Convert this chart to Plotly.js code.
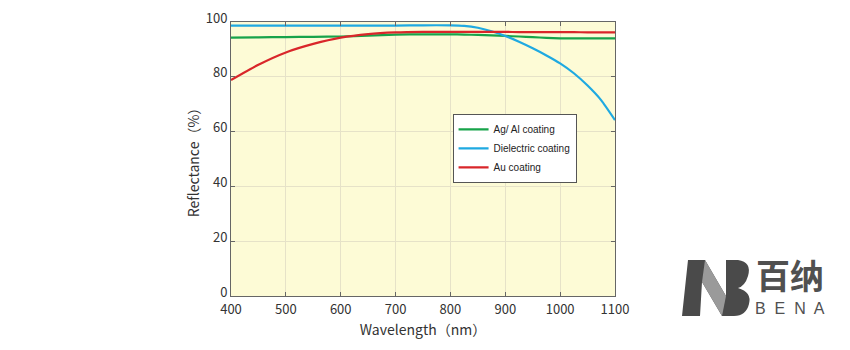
<!DOCTYPE html>
<html><head><meta charset="utf-8">
<script src="https://cdn.plot.ly/plotly-3.0.1.min.js"></script>
<style>body{margin:0;background:#fff}#c{width:850px;height:350px}</style>
</head><body><div id="c"></div>
<script>
const wavelength = [400,450,500,550,600,650,700,750,800,825,850,875,900,925,950,975,1000,1025,1050,1075,1100];
const agAl      = [94.3,94.4,94.5,94.6,94.7,95.0,95.4,95.5,95.5,95.4,95.3,95.1,94.9,94.7,94.5,94.2,94.0,94.0,94.0,94.0,94.0];
const dielectric= [98.7,98.7,98.7,98.7,98.7,98.7,98.7,98.8,98.8,98.6,97.9,96.6,94.9,92.8,90.4,87.8,84.9,81.3,76.8,71.4,64.2];
const au        = [78.8,84.4,88.9,92.0,94.3,95.6,96.2,96.4,96.4,96.4,96.4,96.4,96.4,96.3,96.3,96.3,96.3,96.3,96.2,96.2,96.2];
const seriesNames = ['Ag/ Al coating','Dielectric coating','Au coating'];
const xTicks = [400,500,600,700,800,900,1000,1100];
const yTicks = [0,20,40,60,80,100];

const F = '"Noto Sans CJK SC", "Noto Sans", sans-serif';
const mk = (y,name,color)=>({x:wavelength,y:y,name:name,type:'scatter',mode:'lines',
  line:{color:color,width:2.2,shape:'spline',smoothing:0.5}});
const data = [mk(agAl,seriesNames[0],'#17a34a'), mk(dielectric,seriesNames[1],'#1fa9e1'), mk(au,seriesNames[2],'#d9262a')];

// pixel -> paper helpers for the logo decoration
const L=231,R=615,T=22,B=296;
const px = v=>(v-L)/(R-L), py = v=>(B-v)/(B-T);
function path(pts){ return pts.map((p,i)=>(p[0]==='Q'?'Q '+px(p[1])+' '+py(p[2])+' '+px(p[3])+' '+py(p[4]):(i?'L ':'M ')+px(p[0])+' '+py(p[1]))).join(' ')+' Z'; }

const layout = {
  width:850,height:350,
  margin:{l:L,r:850-R,t:T,b:350-B},
  paper_bgcolor:'#ffffff', plot_bgcolor:'#fdfbd6',
  font:{family:F,color:'#333',size:13},
  showlegend:true,
  legend:{x:0.577,y:0.665,xanchor:'left',yanchor:'top',bgcolor:'#ffffff',bordercolor:'#555',borderwidth:1,
    font:{family:'Liberation Sans, Arial, sans-serif',size:10,color:'#222'},itemwidth:30,tracegroupgap:2},
  xaxis:{range:[400,1100],tickvals:xTicks,ticks:'inside',ticklen:4,tickcolor:'#666',showline:true,linecolor:'#666',linewidth:1,mirror:'ticks',
    showgrid:true,gridcolor:'#e6e2c8',zeroline:false,tickfont:{size:13,color:'#333'},ticklabelstandoff:1,
    title:{text:'Wavelength（nm）',font:{size:14,color:'#333'},standoff:8}},
  yaxis:{range:[0,100],tickvals:yTicks,ticks:'inside',ticklen:4,tickcolor:'#666',showline:true,linecolor:'#666',linewidth:1,mirror:'ticks',
    showgrid:true,gridcolor:'#e6e2c8',zeroline:false,tickfont:{size:13,color:'#333'},ticklabelshift:-4,
    title:{text:'Reflectance（%）',font:{size:14,color:'#333'},standoff:2}},
  shapes:[
    {type:'path',xref:'paper',yref:'paper',line:{width:0},fillcolor:'#4a4a4a',
     path:path([[688,260],[705,260],[726,296],[726,260],[738,260],['Q',752,262,748,276],['Q',745,286,738,288],['Q',752,292,749,304],['Q',746,316,734,316],[722,316],[702,282],[700,316],[682,316]])},
    {type:'path',xref:'paper',yref:'paper',line:{width:0},fillcolor:'#9a9a9a',
     path:path([[705,260],[726,296],[722,316],[702,282]])}
  ],
  annotations:[
    {xref:'paper',yref:'paper',x:px(790),y:py(274),text:'<b>百纳</b>',showarrow:false,font:{family:'"Noto Sans CJK SC"',size:34,color:'#505050'},xanchor:'center',yanchor:'middle'},
    {xref:'paper',yref:'paper',x:px(790),y:py(308),text:'B  E  N  A',showarrow:false,font:{family:'Liberation Sans, Arial',size:16,color:'#505050'},xanchor:'center',yanchor:'middle'}
  ]
};
Plotly.newPlot('c',data,layout,{displayModeBar:false,staticPlot:true});
</script></body></html>
